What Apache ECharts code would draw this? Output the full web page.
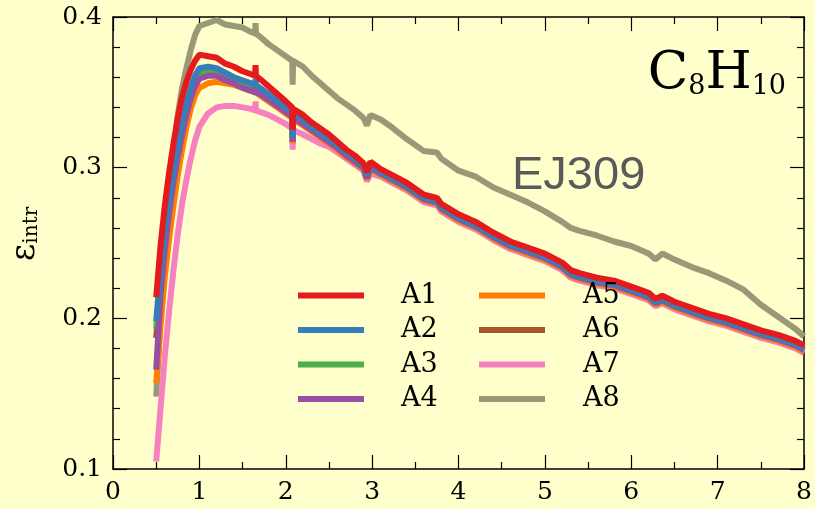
<!DOCTYPE html>
<html><head><meta charset="utf-8">
<script src="https://cdn.jsdelivr.net/npm/echarts@6/dist/echarts.min.js"></script>
<style>html,body{margin:0;padding:0;background:#ffffcc}#c{width:815px;height:509px}</style>
</head><body><div id="c"></div>
<script>
const xs = [0.5,0.55,0.6,0.65,0.7,0.75,0.8,0.85,0.9,0.95,1.0,1.1,1.2,1.3,1.4,1.5,1.6,1.645,1.65,1.655,1.7,1.8,1.9,2.0,2.075,2.08,2.085,2.2,2.3,2.4,2.5,2.6,2.7,2.8,2.9,2.94,2.98,3.1,3.2,3.4,3.6,3.75,3.8,4.0,4.2,4.4,4.6,4.8,5.0,5.2,5.3,5.4,5.6,5.8,6.0,6.2,6.28,6.36,6.5,6.7,6.9,7.1,7.3,7.5,7.7,7.9,8.0];

const A1 = [0.214,0.248,0.275,0.297,0.316,0.333,0.347,0.357,0.365,0.371,0.375,
  0.374,0.373,0.369,0.367,0.364,0.362,0.361,0.368,0.361,0.359,0.354,0.349,0.344,0.340,0.325,0.339,
  0.335,0.330,0.326,0.322,0.317,0.312,0.308,0.303,0.297,0.304,
  0.299,0.296,0.290,0.282,0.280,0.276,0.269,0.264,0.257,0.251,0.247,0.243,0.237,0.232,0.230,0.227,0.225,0.221,0.217,0.213,0.215,0.211,0.207,0.203,0.200,0.196,0.192,0.189,0.185,0.182];
const A2 = [0.198,0.232,0.258,0.279,0.298,0.315,0.330,0.343,0.353,0.361,0.366,
  0.367,0.366,0.363,0.360,0.358,0.356,0.355,0.359,0.355,0.353,0.349,0.344,0.340,0.337,0.320,0.336,
  0.332,0.327,0.323,0.319,0.315,0.310,0.306,0.301,0.295,0.302,
  0.297,0.294,0.288,0.280,0.278,0.274,0.267,0.262,0.255,0.249,0.245,0.241,0.235,0.230,0.228,0.225,0.223,0.219,0.215,0.211,0.213,0.209,0.205,0.201,0.198,0.194,0.190,0.187,0.183,0.180];
const A3 = [0.193,0.228,0.254,0.275,0.294,0.311,0.326,0.339,0.349,0.357,0.362,
  0.364,0.363,0.360,0.358,0.355,0.353,0.352,0.356,0.352,0.351,0.347,0.342,0.338,0.335,0.318,0.334,
  0.330,0.326,0.322,0.318,0.313,0.309,0.305,0.300,0.294,0.301,
  0.296,0.293,0.287,0.279,0.277,0.273,0.266,0.261,0.254,0.248,0.244,0.240,0.234,0.229,0.227,0.224,0.222,0.218,0.214,0.210,0.212,0.208,0.204,0.200,0.197,0.193,0.189,0.186,0.182,0.179];
const A4 = [0.166,0.215,0.246,0.270,0.290,0.307,0.322,0.335,0.346,0.354,0.359,
  0.361,0.361,0.358,0.356,0.353,0.351,0.350,0.354,0.350,0.349,0.345,0.341,0.337,0.334,0.317,0.333,
  0.329,0.325,0.321,0.317,0.313,0.308,0.304,0.300,0.293,0.300,
  0.296,0.293,0.287,0.279,0.277,0.273,0.266,0.261,0.254,0.248,0.244,0.240,0.234,0.229,0.227,0.224,0.222,0.218,0.214,0.210,0.212,0.208,0.204,0.200,0.197,0.193,0.189,0.186,0.182,0.179];
const A5 = [0.157,0.195,0.228,0.253,0.275,0.295,0.312,0.327,0.339,0.348,0.353,
  0.356,0.357,0.356,0.355,0.353,0.351,0.350,0.353,0.350,0.348,0.344,0.340,0.336,0.333,0.316,0.332,
  0.328,0.324,0.320,0.316,0.312,0.307,0.303,0.299,0.292,0.299,
  0.295,0.292,0.286,0.278,0.276,0.272,0.265,0.260,0.253,0.247,0.243,0.239,0.233,0.228,0.226,0.223,0.221,0.217,0.213,0.209,0.211,0.207,0.203,0.199,0.196,0.192,0.188,0.185,0.181,0.178];
const A6 = [0.187,0.224,0.251,0.272,0.291,0.308,0.323,0.336,0.347,0.355,0.360,
  0.362,0.362,0.359,0.357,0.354,0.352,0.351,0.355,0.351,0.350,0.346,0.341,0.337,0.334,0.317,0.333,
  0.329,0.325,0.321,0.317,0.313,0.308,0.304,0.300,0.293,0.300,
  0.296,0.293,0.287,0.279,0.277,0.273,0.266,0.261,0.254,0.248,0.244,0.240,0.234,0.229,0.227,0.224,0.222,0.218,0.214,0.210,0.212,0.208,0.204,0.200,0.197,0.193,0.189,0.186,0.182,0.179];
const A7 = [0.105,0.140,0.175,0.205,0.232,0.256,0.276,0.292,0.306,0.318,0.327,
  0.336,0.340,0.341,0.341,0.340,0.339,0.338,0.344,0.338,0.337,0.335,0.332,0.329,0.326,0.312,0.325,
  0.322,0.319,0.316,0.314,0.310,0.306,0.302,0.298,0.291,0.296,
  0.294,0.291,0.285,0.277,0.275,0.271,0.264,0.259,0.252,0.246,0.242,0.238,0.232,0.227,0.225,0.222,0.220,0.216,0.212,0.208,0.210,0.206,0.202,0.198,0.195,0.191,0.187,0.184,0.180,0.177];
const A8 = [0.148,0.200,0.245,0.280,0.310,0.335,0.353,0.366,0.378,0.388,0.394,
  0.396,0.398,0.395,0.394,0.393,0.390,0.389,0.396,0.389,0.387,0.382,0.378,0.374,0.371,0.355,0.371,
  0.367,0.361,0.356,0.351,0.346,0.342,0.338,0.333,0.328,0.335,
  0.332,0.328,0.319,0.311,0.310,0.306,0.298,0.294,0.287,0.282,0.277,0.271,0.264,0.260,0.258,0.255,0.251,0.248,0.243,0.239,0.243,0.239,0.234,0.230,0.225,0.219,0.209,0.201,0.193,0.188];

const names = ['A1','A2','A3','A4','A5','A6','A7','A8'];
const values = {A1, A2, A3, A4, A5, A6, A7, A8};
const colors = {A1:'#e41a1c', A2:'#377eb8', A3:'#4daf4a', A4:'#984ea3', A5:'#ff7f00', A6:'#a65628', A7:'#f781bf', A8:'#999977'};
const drawOrder = ['A8','A7','A6','A5','A3','A4','A2','A1'];
const xTickLabels = ['0','1','2','3','4','5','6','7','8'];

const serif = 'DejaVu Serif';
const chart = echarts.init(document.getElementById('c'), null, {renderer:'canvas'});

function xAx(pos, showLabel){
  return {type:'value', min:0, max:8, interval:1, position:pos,
    axisLine:{show:true, onZero:false, lineStyle:{color:'#000', width:1.5}},
    axisTick:{show:true, inside:true, length:14, lineStyle:{color:'#000', width:1.2}},
    minorTick:{show:true, splitNumber:2, length:7, lineStyle:{color:'#000', width:1.2}},
    splitLine:{show:false}, minorSplitLine:{show:false},
    axisLabel:{show:showLabel, fontFamily:serif, fontSize:25, color:'#000', margin:11,
      formatter: v => xTickLabels[Math.round(v)]}};
}
function yAx(pos, showLabel){
  return {type:'value', min:0.1, max:0.4, interval:0.1, position:pos,
    axisLine:{show:true, onZero:false, lineStyle:{color:'#000', width:1.5}},
    axisTick:{show:true, inside:true, length:14, lineStyle:{color:'#000', width:1.2}},
    minorTick:{show:true, splitNumber:5, length:7, lineStyle:{color:'#000', width:1.2}},
    splitLine:{show:false}, minorSplitLine:{show:false},
    axisLabel:{show:showLabel, fontFamily:serif, fontSize:25, color:'#000', margin:11,
      formatter: v => v.toFixed(1)}};
}

const legendText = {fontFamily:serif, fontSize:27, color:'#000', lineHeight:27};
const option = {
  backgroundColor:'#ffffcc',
  animation:false,
  grid:{left:113, right:8, top:17, bottom:40, containLabel:false},
  xAxis:[xAx('bottom', true), xAx('top', false)],
  yAxis:[yAx('left', true), yAx('right', false)],
  legend:[
    {data:names.slice(0,4), left:298, top:282, orient:'vertical', icon:'rect', itemWidth:66, itemHeight:6,
     itemGap:7.5, padding:0, selectedMode:false, textStyle:Object.assign({padding:[0,0,0,32]}, legendText)},
    {data:names.slice(4), left:479, top:282, orient:'vertical', icon:'rect', itemWidth:66, itemHeight:6,
     itemGap:7.5, padding:0, selectedMode:false, textStyle:Object.assign({padding:[0,0,0,33]}, legendText)}
  ],
  graphic:[
    {type:'text', x:25, y:234, rotation:Math.PI/2,
     style:{text:'{e|ε}{s|intr}', align:'center', verticalAlign:'middle', fill:'#000',
       rich:{e:{fontSize:34, fontFamily:serif, fill:'#000', verticalAlign:'bottom'},
             s:{fontSize:20, fontFamily:serif, fill:'#000', verticalAlign:'bottom'}}}},
    {type:'text', x:786, y:74, 
     style:{text:'{m|C}{s|8}{m|H}{s|10}', align:'right', verticalAlign:'middle', fill:'#000',
       rich:{m:{fontSize:53, fontFamily:serif, fill:'#000', verticalAlign:'bottom'},
             s:{fontSize:27, fontFamily:serif, fill:'#000', verticalAlign:'bottom'}}}},
    {type:'text', x:512, y:176,
     style:{text:'EJ309', fontFamily:'Liberation Sans', fontSize:47, fill:'#5a5a5a', align:'left', verticalAlign:'middle'}}
  ],
  series: drawOrder.map(n => ({
    name:n, type:'line', xAxisIndex:0, yAxisIndex:0,
    data: xs.map((x,i) => [x, values[n][i]]),
    showSymbol:false, symbol:'none', smooth:false,
    color: colors[n],
    itemStyle:{color:colors[n]},
    lineStyle:{color:colors[n], width:6, cap:'butt', join:'bevel'},
    emphasis:{disabled:true}
  }))
};
chart.setOption(option);
</script></body></html>
